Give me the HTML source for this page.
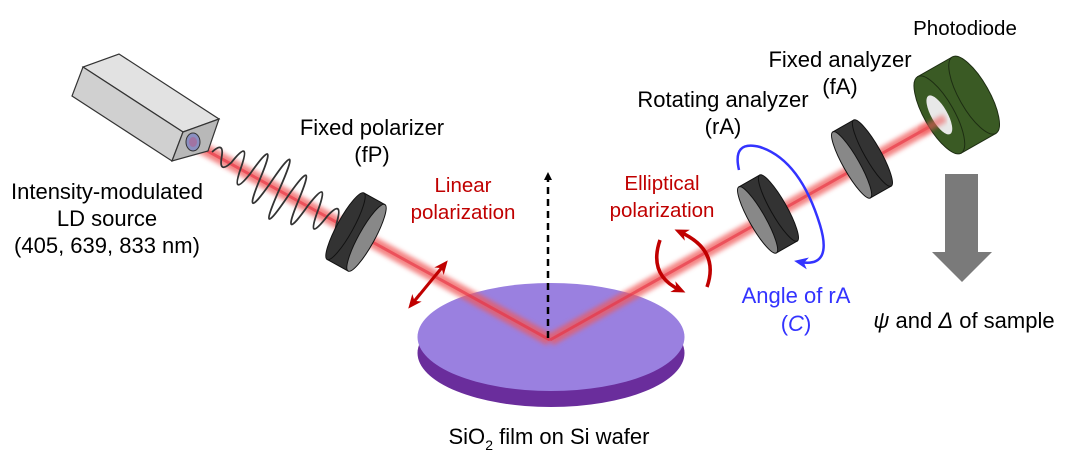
<!DOCTYPE html>
<html><head><meta charset="utf-8"><style>
html,body{margin:0;padding:0;background:#fff;}
svg{display:block;font-family:"Liberation Sans",Arial,sans-serif;}
</style></head><body>
<svg width="1080" height="455" viewBox="0 0 1080 455" xmlns="http://www.w3.org/2000/svg">
<defs>
<filter id="bl" x="-10%" y="-50%" width="120%" height="200%"><feGaussianBlur stdDeviation="2.5"/></filter>
<marker id="ah" markerWidth="8" markerHeight="8" refX="4" refY="4" orient="auto" markerUnits="userSpaceOnUse"><path d="M0,0 L8,4 L0,8 z" fill="#000"/></marker>
<marker id="rh" markerWidth="14" markerHeight="12" refX="8" refY="6" orient="auto" markerUnits="userSpaceOnUse"><path d="M0,0 L14,6 L0,12 L4,6 z" fill="#c00000"/></marker>
<marker id="bh" markerWidth="14" markerHeight="12" refX="8" refY="6" orient="auto" markerUnits="userSpaceOnUse"><path d="M0,0 L14,6 L0,12 L4,6 z" fill="#3333ff"/></marker>
</defs>

<!-- wafer -->
<ellipse cx="551" cy="353" rx="133.5" ry="54" fill="#6a2d9c"/>
<ellipse cx="551" cy="337" rx="133.5" ry="54" fill="#9a80e0"/>

<!-- beams -->
<g filter="url(#bl)" opacity="0.75">
<line x1="193" y1="143" x2="550" y2="340" stroke="#f05a5a" stroke-width="12"/>
<line x1="550" y1="340" x2="945" y2="118" stroke="#f05a5a" stroke-width="12"/>
</g>
<g opacity="0.6">
<line x1="193" y1="143" x2="550" y2="340" stroke="#e83040" stroke-width="3"/>
<line x1="550" y1="340" x2="945" y2="118" stroke="#e83040" stroke-width="3"/>
</g>

<!-- dashed normal -->
<line x1="548" y1="338" x2="548" y2="176" stroke="#000" stroke-width="2.5" stroke-dasharray="7,5" marker-end="url(#ah)"/>

<!-- laser box -->
<polygon points="183,132 219,119 119,54 83,67" fill="#e2e2e2" stroke="#333" stroke-width="1.2"/>
<polygon points="183,132 172,161 72,96 83,67" fill="#d0d0d0" stroke="#333" stroke-width="1.2"/>
<polygon points="183,132 219,119 208,151 172,161" fill="#b8b8b8" stroke="#333" stroke-width="1.2"/>
<ellipse cx="193" cy="142" rx="7" ry="9" fill="#8a8fc0" stroke="#333" stroke-width="1"/>
<ellipse cx="193" cy="142" rx="4" ry="5" fill="#b06090" opacity="0.6"/>

<!-- wave -->
<g transform="translate(212,152) rotate(28.9)">
<path d="M0,0 Q5.5,-16 11,0 T22,0 Q27.5,-32 33,0 Q38.5,32 44,0 Q49.5,-50 55,0 Q60.5,50 66,0 Q71.5,-62 77,0 Q82.5,62 88,0 Q93.5,-50 99,0 Q104.5,50 110,0 Q115.5,-36 121,0 Q126.5,36 132,0 Q137.5,-22 143,0 Q148.5,22 154,0" fill="none" stroke="#333" stroke-width="1.8"/>
</g>

<!-- fixed polarizer -->
<g transform="translate(356,232) rotate(28.9)">
<rect x="-12" y="-38" width="24" height="76" fill="#333" stroke="#111"/>
<ellipse cx="-12" cy="0" rx="8" ry="38" fill="#333" stroke="#111"/>
<ellipse cx="12" cy="0" rx="8" ry="38" fill="#888" stroke="#111"/>
</g>

<!-- rotating analyzer -->
<g transform="translate(768,214) rotate(-29.6)">
<rect x="-12" y="-38" width="24" height="76" fill="#333" stroke="#111"/>
<ellipse cx="12" cy="0" rx="8" ry="38" fill="#333" stroke="#111"/>
<ellipse cx="-12" cy="0" rx="8" ry="38" fill="#888" stroke="#111"/>
</g>
<!-- fixed analyzer -->
<g transform="translate(862,159) rotate(-29.6)">
<rect x="-12" y="-38" width="24" height="76" fill="#333" stroke="#111"/>
<ellipse cx="12" cy="0" rx="8" ry="38" fill="#333" stroke="#111"/>
<ellipse cx="-12" cy="0" rx="8" ry="38" fill="#888" stroke="#111"/>
</g>

<!-- photodiode -->
<g transform="translate(955,106) rotate(-29.6)">
<rect x="-18" y="-44" width="40" height="88" fill="#3a5a24" stroke="#1d2d12"/>
<ellipse cx="22" cy="0" rx="15" ry="44" fill="#3a5a24" stroke="#1d2d12"/>
<ellipse cx="-18" cy="0" rx="15" ry="44" fill="#3a5a24" stroke="#1d2d12"/>
<ellipse cx="-18" cy="0" rx="8" ry="22" fill="#e8e8e8"/>
</g>
<line x1="920" y1="132" x2="945" y2="118" stroke="#f05a5a" stroke-width="8" opacity="0.6" filter="url(#bl)"/>

<!-- linear polarization arrow -->
<line x1="420" y1="294" x2="412" y2="304" stroke="#c00000" stroke-width="3" marker-end="url(#rh)"/>
<line x1="436" y1="275" x2="444" y2="265" stroke="#c00000" stroke-width="3" marker-end="url(#rh)"/>
<line x1="412" y1="304" x2="444" y2="265" stroke="#c00000" stroke-width="3"/>

<!-- elliptical rotation arrows -->
<path d="M660,240 Q648,275 680,290" fill="none" stroke="#c00000" stroke-width="3.5" marker-end="url(#rh)"/>
<path d="M707,287 Q720,250 680,232" fill="none" stroke="#c00000" stroke-width="3.5" marker-end="url(#rh)"/>

<!-- blue rotation arc -->
<path d="M739,170 Q732,140 760,147 Q800,160 820,225 Q833,268 800,262" fill="none" stroke="#3333ff" stroke-width="2.5" marker-end="url(#bh)"/>

<!-- gray arrow -->
<polygon points="945,174 978,174 978,252 992,252 962,282 932,252 945,252" fill="#7a7a7a"/>

<!-- text -->
<g font-size="22" text-anchor="middle" fill="#000">
<text x="965" y="35" font-size="20.5">Photodiode</text>
<text x="840" y="67">Fixed analyzer</text>
<text x="840" y="94">(fA)</text>
<text x="723" y="107">Rotating analyzer</text>
<text x="723" y="134">(rA)</text>
<text x="372" y="135">Fixed polarizer</text>
<text x="372" y="162">(fP)</text>
<text x="107" y="199">Intensity-modulated</text>
<text x="107" y="226">LD source</text>
<text x="107" y="253">(405, 639, 833 nm)</text>
<g font-size="20.5">
<text x="463" y="192" fill="#c00000">Linear</text>
<text x="463" y="219" fill="#c00000">polarization</text>
<text x="662" y="190" fill="#c00000">Elliptical</text>
<text x="662" y="217" fill="#c00000">polarization</text>
</g>
<text x="796" y="303" fill="#3333ff">Angle of rA</text>
<text x="796" y="331" fill="#3333ff">(<tspan font-style="italic">C</tspan>)</text>
<text x="964" y="328"><tspan font-style="italic">ψ</tspan> and <tspan font-style="italic">Δ</tspan> of sample</text>
<text x="549" y="444">SiO<tspan font-size="14" dy="6">2</tspan><tspan dy="-6"> film on Si wafer</tspan></text>
</g>
</svg>
</body></html>
